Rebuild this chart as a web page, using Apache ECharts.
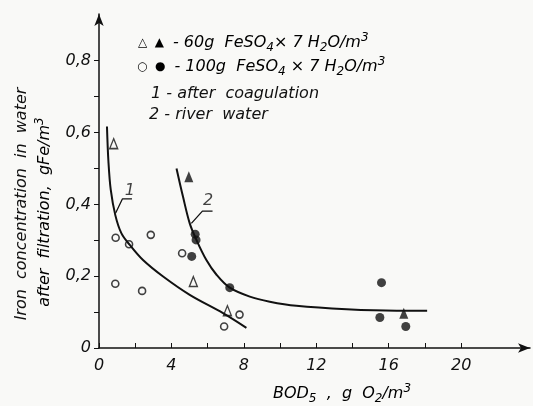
<!DOCTYPE html>
<html>
<head>
<meta charset="utf-8">
<script src="https://cdn.jsdelivr.net/npm/echarts@6/dist/echarts.min.js"></script>
<style>
  html, body { margin: 0; padding: 0; background: #f9f9f7; }
  #chart { width: 533px; height: 406px; }
</style>
</head>
<body>
<div id="chart"></div>
<script>
// points: [BOD5, iron concentration]
const openCircles = [[0.92, 0.307], [1.66, 0.289], [2.86, 0.315], [0.90, 0.179], [2.38, 0.159],
  [4.59, 0.264], [7.76, 0.093], [6.91, 0.06]]
const filledCircles = [[5.31, 0.317], [5.36, 0.301], [5.12, 0.255], [7.22, 0.168], [15.6, 0.182],
  [15.51, 0.085], [16.94, 0.06]]
const openTriangles = [[0.81, 0.569], [5.21, 0.185], [7.09, 0.104]]
const filledTriangles = [[4.96, 0.477], [16.83, 0.097]]

// fitted curves 1 (after coagulation) and 2 (river water)
const curve1 = [[0.44, 0.617], [0.52, 0.52], [0.65, 0.44], [0.9, 0.37], [1.24, 0.319], [1.7, 0.287],
  [2.43, 0.245], [3.54, 0.199], [5.01, 0.148], [6.85, 0.097], [8.14, 0.056]]
const curve2 = [[4.28, 0.5], [4.64, 0.421], [5.01, 0.347], [5.38, 0.301], [5.93, 0.245], [6.49, 0.204],
  [7.22, 0.168], [8.33, 0.143], [9.43, 0.129], [10.9, 0.1175], [13.67, 0.108], [16.43, 0.104], [18.12, 0.104]]

// leader lines for the curve numbers
const leader1 = [[0.92, 0.376], [1.29, 0.415], [1.82, 0.415]]
const leader2 = [[5.1, 0.347], [5.71, 0.381], [6.27, 0.381]]
const curveLabels = [[1.7, 0.437, '1'], [6.02, 0.409, '2']]

const xTicks = [0, 2, 4, 6, 8, 10, 12, 14, 16, 18, 20]
const xLabels = [0, 4, 8, 12, 16, 20]
const yTicks = [0, 0.1, 0.2, 0.3, 0.4, 0.5, 0.6, 0.7, 0.8]
const yLabels = [0, 0.2, 0.4, 0.6, 0.8]

const font = 'DejaVu Sans'

const chart = echarts.init(document.getElementById('chart'))

const richChem = {
  t: { fontSize: 16, fontStyle: 'italic', fontFamily: font, color: '#111', lineHeight: 22 },
  sym: { fontSize: 12, fontFamily: font, color: '#111', lineHeight: 22 },
  sub: { fontSize: 12, fontStyle: 'italic', fontFamily: font, color: '#111', lineHeight: 10, verticalAlign: 'bottom' },
  sup: { fontSize: 12, fontStyle: 'italic', fontFamily: font, color: '#111', lineHeight: 10, verticalAlign: 'top' }
}

const option = {
  backgroundColor: '#f9f9f7',
  animation: false,
  grid: { left: 99, right: 3, top: 14, bottom: 58 },
  xAxis: {
    type: 'value',
    min: 0,
    max: 23.8,
    interval: 2,
    axisLine: { lineStyle: { color: '#111', width: 1.5 }, symbol: ['none', 'arrow'], symbolSize: [7, 12] },
    axisTick: { inside: true, length: 5, lineStyle: { color: '#111' }, customValues: xTicks },
    axisLabel: {
      customValues: xLabels,
      margin: 10,
      fontSize: 16,
      fontStyle: 'italic',
      fontFamily: font,
      color: '#111'
    },
    splitLine: { show: false }
  },
  yAxis: {
    type: 'value',
    min: 0,
    max: 0.93,
    interval: 0.1,
    axisLine: { lineStyle: { color: '#111', width: 1.5 }, symbol: ['none', 'arrow'], symbolSize: [7, 12] },
    axisTick: { length: 5, lineStyle: { color: '#111' }, customValues: yTicks },
    axisLabel: {
      customValues: yLabels,
      margin: 8,
      fontSize: 16,
      fontStyle: 'italic',
      fontFamily: font,
      color: '#111',
      formatter: v => (v === 0 ? '0' : v.toFixed(1).replace('.', ','))
    },
    splitLine: { show: false }
  },
  series: [
    {
      type: 'line', data: curve1, smooth: 0.35, symbol: 'none',
      lineStyle: { color: '#111', width: 2 }
    },
    {
      type: 'line', data: curve2, smooth: 0.35, symbol: 'none',
      lineStyle: { color: '#111', width: 2 }
    },
    {
      type: 'line', data: leader1, symbol: 'none',
      lineStyle: { color: '#111', width: 1.3 }
    },
    {
      type: 'line', data: leader2, symbol: 'none',
      lineStyle: { color: '#111', width: 1.3 }
    },
    {
      type: 'scatter', data: curveLabels, symbolSize: 0,
      label: {
        show: true, position: 'inside', formatter: p => p.data[2],
        fontSize: 16, fontStyle: 'italic', fontFamily: font, color: '#111'
      }
    },
    {
      type: 'scatter', data: openCircles, symbol: 'circle', symbolSize: 7,
      itemStyle: { color: '#f9f9f7', borderColor: '#111', borderWidth: 1.6 }
    },
    {
      type: 'scatter', data: filledCircles, symbol: 'circle', symbolSize: 9,
      itemStyle: { color: '#111' }
    },
    {
      type: 'scatter', data: openTriangles, symbol: 'triangle', symbolSize: [8, 10],
      itemStyle: { color: '#f9f9f7', borderColor: '#111', borderWidth: 1.4 }
    },
    {
      type: 'scatter', data: filledTriangles, symbol: 'triangle', symbolSize: [9, 11],
      itemStyle: { color: '#111' }
    }
  ],
  graphic: [
    {
      type: 'text', left: 138, top: 32,
      style: {
        text: '{sym|△  ▲ }{t| - 60g  FeSO}{sub|4}{t|× 7 H}{sub|2}{t|O/m}{sup|3}',
        rich: richChem
      }
    },
    {
      type: 'text', left: 137, top: 56,
      style: {
        text: '{sym|○  ● }{t| - 100g  FeSO}{sub|4}{t| × 7 H}{sub|2}{t|O/m}{sup|3}',
        rich: richChem
      }
    },
    {
      type: 'text', left: 151, top: 86,
      style: { text: '1 - after  coagulation', fontSize: 16, fontStyle: 'italic', fontFamily: font, fill: '#111' }
    },
    {
      type: 'text', left: 149, top: 107,
      style: { text: '2 - river  water', fontSize: 16, fontStyle: 'italic', fontFamily: font, fill: '#111' }
    },
    {
      type: 'text', x: 22, y: 204, rotation: Math.PI / 2,
      style: {
        text: 'Iron  concentration  in  water', fontSize: 16, fontStyle: 'italic', fontFamily: font,
        fill: '#111', align: 'center', verticalAlign: 'middle'
      }
    },
    {
      type: 'text', x: 45, y: 212, rotation: Math.PI / 2,
      style: {
        text: '{t|after  filtration,  gFe/m}{sup|3}',
        rich: richChem, align: 'center', verticalAlign: 'middle'
      }
    },
    {
      type: 'text', x: 342, y: 394,
      style: {
        text: '{t|BOD}{sub|5}{t|  ,  g  O}{sub|2}{t|/m}{sup|3}',
        rich: richChem, align: 'center', verticalAlign: 'middle'
      }
    }
  ]
}

chart.setOption(option)
</script>
</body>
</html>
